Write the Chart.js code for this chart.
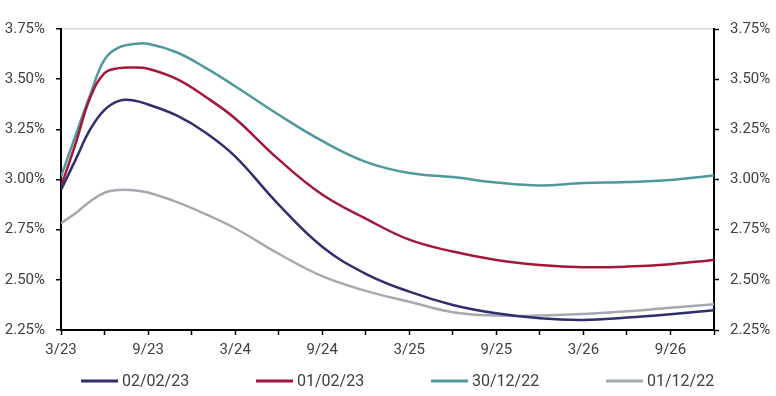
<!DOCTYPE html>
<html><head><meta charset="utf-8">
<script src="https://cdn.jsdelivr.net/npm/chart.js@4.4.0/dist/chart.umd.min.js"></script>
<style>html,body{margin:0;padding:0;background:#fff;} canvas{display:block;}</style>
</head><body>
<canvas id="c" width="776" height="396"></canvas>
<script>
// Months since March 2023 (0 = 3/23, 45 = 12/26)
const months = [0,1,2,3,4,5,6,8,10,12,15,18,21,24,27,30,33,36,39,42,45];
const seriesNames = ['02/02/23','01/02/23','30/12/22','01/12/22'];
const s020223 = [2.948,3.098,3.248,3.347,3.392,3.394,3.374,3.318,3.232,3.115,2.875,2.665,2.530,2.441,2.375,2.333,2.308,2.300,2.312,2.329,2.349];
const s010223 = [2.965,3.178,3.406,3.530,3.555,3.558,3.552,3.500,3.410,3.304,3.100,2.925,2.805,2.700,2.641,2.599,2.574,2.563,2.566,2.578,2.599];
const s301222 = [3.015,3.218,3.420,3.597,3.658,3.675,3.677,3.633,3.555,3.465,3.323,3.192,3.088,3.032,3.012,2.985,2.970,2.982,2.987,2.998,3.020];
const s011222 = [2.782,2.832,2.890,2.934,2.948,2.947,2.935,2.887,2.826,2.757,2.630,2.518,2.445,2.391,2.339,2.322,2.322,2.330,2.343,2.361,2.378];
const xTickLabels = ['3/23','9/23','3/24','9/24','3/25','9/25','3/26','9/26'];
const yMin = 2.25, yMax = 3.75, yStep = 0.25;
const colors = ['#2d2f6e','#a3173a','#4f989c','#a4aab0'];

const allSeries = [s020223, s010223, s301222, s011222];
const toPoints = vals => vals.map((v,i)=>({x:months[i], y:v}));

Chart.defaults.font.family = 'Roboto';
Chart.defaults.font.size = 15;
Chart.defaults.color = '#404040';

const legendPlugin = {
  id:'bottomLegend',
  afterDraw(chart){
    const ctx = chart.ctx;
    ctx.save();
    ctx.font = '16px Roboto';
    ctx.textBaseline = 'middle';
    const y = 381;
    chart.data.datasets.forEach((ds,i)=>{
      const x0 = 81 + i*175;
      ctx.strokeStyle = ds.borderColor; ctx.lineWidth = 3;
      ctx.beginPath(); ctx.moveTo(x0,y); ctx.lineTo(x0+37,y); ctx.stroke();
      ctx.fillStyle = '#404040';
      ctx.fillText(ds.label, x0+41, y+1);
    });
    ctx.restore();
  }
};

const yTickFmt = v => v.toFixed(2) + '%';
const yAxisCommon = {
  type:'linear', min:yMin, max:yMax,
  ticks:{stepSize:yStep, callback:yTickFmt, padding:11, color:'#404040'},
  border:{display:true, color:'#000', width:2},
};

new Chart(document.getElementById('c'), {
  type:'line',
  data:{
    datasets: allSeries.map((vals,i)=>({
      label: seriesNames[i],
      data: toPoints(vals),
      borderColor: colors[i],
      backgroundColor: colors[i],
      borderWidth: 2.5,
      pointRadius: 0,
      tension: 0.4,
      fill:false
    }))
  },
  options:{
    responsive:false,
    animation:false,
    layout:{padding:{top:29,bottom:30,left:0,right:0}},
    plugins:{legend:{display:false}, tooltip:{enabled:false}},
    scales:{
      x:{
        type:'linear', min:0, max:45,
        ticks:{stepSize:3, autoSkip:false, maxRotation:0, padding:6,
          callback: v => (v % 6 === 0 ? xTickLabels[v/6] : '')},
        grid:{drawOnChartArea:false, tickLength:5, tickColor:'#000', tickWidth:1.5},
        border:{color:'#000', width:2},
        afterFit: s => { s.height = 36; }
      },
      y:{
        ...yAxisCommon, position:'left',
        grid:{
          color: c => (c.tick && Math.abs(c.tick.value - yMax) < 1e-6) ? '#d9d9d9' : 'rgba(0,0,0,0)',
          lineWidth:1.5, tickLength:5, tickColor:'#000', tickWidth:1.5
        },
        afterFit: s => { s.width = 61; }
      },
      y2:{
        ...yAxisCommon, position:'right',
        grid:{drawOnChartArea:false, tickLength:5, tickColor:'#000', tickWidth:1.5},
        afterFit: s => { s.width = 62; }
      }
    }
  },
  plugins:[legendPlugin]
});
</script>
</body></html>
